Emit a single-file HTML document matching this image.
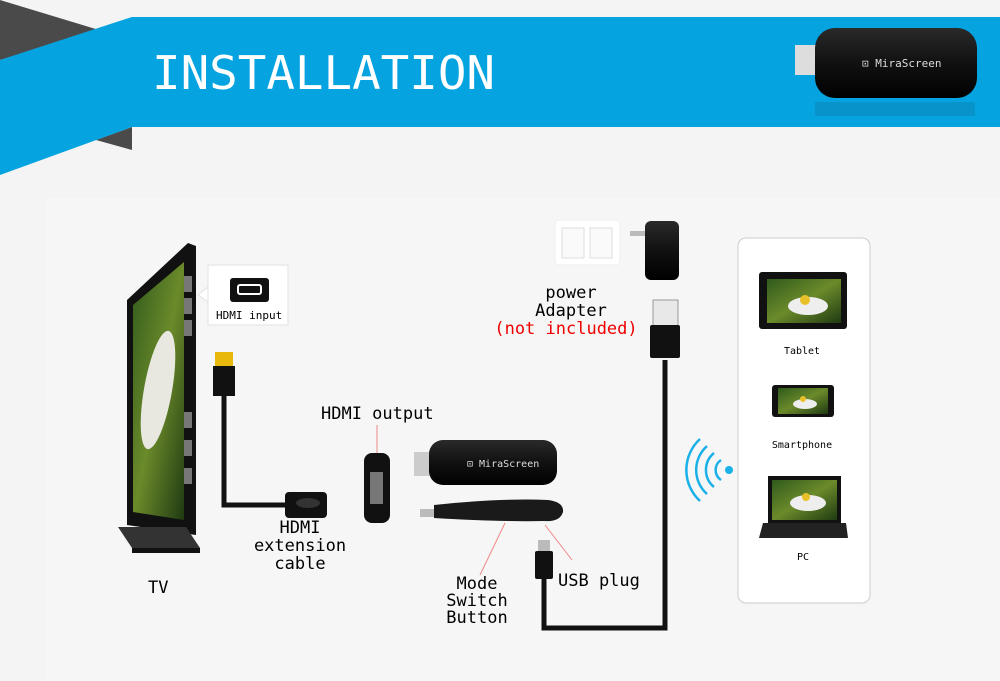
<!DOCTYPE html>
<html><head><style>
html,body{margin:0;padding:0;width:1000px;height:681px;overflow:hidden;background:#f4f4f4}
svg{display:block}
text{font-family:"DejaVu Sans Mono","Liberation Mono",monospace}
</style></head><body>
<svg width="1000" height="681" viewBox="0 0 1000 681">
<defs>
<linearGradient id="scr" x1="0" y1="0" x2="1" y2="1">
<stop offset="0" stop-color="#2f5a1c"/><stop offset="0.5" stop-color="#6b8a2a"/><stop offset="1" stop-color="#1f3a12"/></linearGradient>
<linearGradient id="blk" x1="0" y1="0" x2="0" y2="1">
<stop offset="0" stop-color="#2a2a2a"/><stop offset="0.5" stop-color="#111"/><stop offset="1" stop-color="#000"/></linearGradient>
</defs>
<rect width="1000" height="681" fill="#f4f4f4"/>
<rect x="45" y="198" width="955" height="483" fill="#f6f6f6"/>
<!-- header -->
<polygon points="0,0 99,30 0,60" fill="#4a4a4a"/>
<polygon points="96,140 132,127 132,150" fill="#4a4a4a"/>
<polygon points="132,17 1000,17 1000,127 132,127 0,175 0,60" fill="#05a3e0"/>
<text x="152" y="89" font-size="46" fill="#fff" textLength="343" lengthAdjust="spacingAndGlyphs">INSTALLATION</text>
<!-- top dongle -->
<rect x="795" y="45" width="25" height="30" fill="#ddd"/>
<rect x="815" y="28" width="162" height="70" rx="20" fill="url(#blk)"/>
<rect x="815" y="102" width="160" height="14" fill="#0b88bd" opacity="0.6"/>
<text x="862" y="67" font-size="11" fill="#ddd" font-family="Liberation Sans">⊡ MiraScreen</text>
<!-- TV -->
<polygon points="127,300 188,243 196,246 196,535 127,525" fill="#111"/>
<polygon points="133,305 184,262 184,520 133,512" fill="url(#scr)"/>
<ellipse cx="158" cy="390" rx="14" ry="60" fill="#e8e8e0" transform="rotate(10 158 390)"/>
<rect x="184" y="276" width="8" height="16" fill="#777"/>
<rect x="184" y="298" width="8" height="16" fill="#777"/>
<rect x="184" y="320" width="8" height="16" fill="#777"/>
<rect x="184" y="412" width="8" height="16" fill="#777"/>
<rect x="184" y="440" width="8" height="16" fill="#777"/>
<rect x="184" y="468" width="8" height="16" fill="#777"/>
<polygon points="118,527 186,527 200,548 132,548" fill="#333"/>
<polygon points="132,548 200,548 200,553 132,553" fill="#111"/>
<!-- HDMI input callout -->
<rect x="208" y="265" width="80" height="60" fill="#fff" stroke="#e2e2e2"/>
<polygon points="208,287 198,295 208,302" fill="#fff" stroke="#e2e2e2"/>
<rect x="230" y="278" width="39" height="24" rx="3" fill="#111"/>
<rect x="238" y="285" width="23" height="9" rx="2" fill="none" stroke="#fff" stroke-width="2"/>
<text x="216" y="319" font-size="11" fill="#000">HDMI input</text>
<!-- HDMI cable -->
<rect x="215" y="352" width="18" height="14" fill="#e8b90c"/>
<rect x="213" y="366" width="22" height="30" fill="#111"/>
<path d="M224,396 V505 H290" stroke="#111" stroke-width="5" fill="none"/>
<rect x="285" y="492" width="42" height="26" rx="4" fill="#111"/>
<ellipse cx="308" cy="503" rx="12" ry="5" fill="#333"/>
<text x="300" y="533" font-size="17" text-anchor="middle">HDMI</text>
<text x="300" y="551" font-size="17" text-anchor="middle">extension</text>
<text x="300" y="569" font-size="17" text-anchor="middle">cable</text>
<text x="148" y="593" font-size="17">TV</text>
<!-- HDMI output adapter -->
<text x="321" y="419" font-size="17">HDMI output</text>
<line x1="377" y1="425" x2="377" y2="455" stroke="#e88" stroke-width="1"/>
<rect x="364" y="453" width="26" height="70" rx="8" fill="#111"/>
<rect x="370" y="472" width="13" height="32" fill="#777"/>
<!-- dongle -->
<rect x="414" y="452" width="18" height="24" fill="#ccc"/>
<rect x="429" y="440" width="128" height="45" rx="14" fill="url(#blk)"/>
<text x="467" y="467" font-size="10" fill="#ddd" font-family="Liberation Sans">⊡ MiraScreen</text>
<!-- wand -->
<rect x="420" y="509" width="16" height="8" fill="#bbb"/>
<path d="M434,505 Q500,498 548,500 Q564,502 563,512 Q560,522 545,521 Q500,522 434,518 Z" fill="#1a1a1a"/>
<line x1="505" y1="523" x2="480" y2="575" stroke="#e88"/>
<line x1="545" y1="525" x2="572" y2="560" stroke="#e88"/>
<text x="477" y="589" font-size="17" text-anchor="middle">Mode</text>
<text x="477" y="606" font-size="17" text-anchor="middle">Switch</text>
<text x="477" y="623" font-size="17" text-anchor="middle">Button</text>
<text x="558" y="586" font-size="17">USB plug</text>
<!-- micro usb + cable -->
<rect x="538" y="540" width="12" height="12" fill="#bbb"/>
<rect x="535" y="551" width="18" height="28" rx="2" fill="#111"/>
<path d="M544,578 V628 H665 V360" stroke="#111" stroke-width="5" fill="none"/>
<rect x="653" y="300" width="25" height="27" fill="#e8e8e8" stroke="#999"/>
<rect x="650" y="325" width="30" height="33" rx="2" fill="#111"/>
<!-- outlet & adapter -->
<rect x="555" y="220" width="65" height="45" rx="4" fill="#fff" stroke="#eee"/>
<rect x="562" y="228" width="22" height="30" fill="#fafafa" stroke="#ddd"/>
<rect x="590" y="228" width="22" height="30" fill="#fafafa" stroke="#ddd"/>
<rect x="630" y="231" width="15" height="5" fill="#bbb"/>
<rect x="645" y="221" width="34" height="59" rx="6" fill="url(#blk)"/>
<text x="571" y="298" font-size="17" text-anchor="middle">power</text>
<text x="571" y="316" font-size="17" text-anchor="middle">Adapter</text>
<text x="566" y="334" font-size="17" text-anchor="middle" fill="#e00">(not included)</text>
<!-- wifi -->
<circle cx="729" cy="470" r="4" fill="#1ab0e8"/>
<g fill="none" stroke="#1ab0e8" stroke-width="2.5">
<path d="M721,460 A12,12 0 0 0 721,480"/>
<path d="M714,453 A22,22 0 0 0 714,487"/>
<path d="M707,446 A32,32 0 0 0 707,494"/>
<path d="M700,439 A42,42 0 0 0 700,501"/>
</g>
<!-- device panel -->
<rect x="738" y="238" width="132" height="365" rx="8" fill="#fff" stroke="#ccc"/>
<rect x="759" y="272" width="88" height="57" rx="3" fill="#111"/>
<rect x="767" y="279" width="74" height="44" fill="url(#scr)"/>
<ellipse cx="808" cy="306" rx="20" ry="9" fill="#eee"/>
<circle cx="805" cy="300" r="5" fill="#e8c02a"/>
<text x="802" y="354" font-size="10" text-anchor="middle">Tablet</text>
<rect x="772" y="385" width="62" height="32" rx="3" fill="#111"/>
<rect x="778" y="388" width="50" height="26" fill="url(#scr)"/>
<ellipse cx="805" cy="404" rx="12" ry="5" fill="#eee"/>
<circle cx="803" cy="399" r="3" fill="#e8c02a"/>
<text x="802" y="448" font-size="10" text-anchor="middle">Smartphone</text>
<rect x="768" y="476" width="73" height="47" fill="#111"/>
<rect x="772" y="480" width="65" height="40" fill="url(#scr)"/>
<ellipse cx="808" cy="503" rx="18" ry="8" fill="#eee"/>
<circle cx="806" cy="497" r="4" fill="#e8c02a"/>
<polygon points="763,523 846,523 848,538 759,538" fill="#222"/>
<text x="803" y="560" font-size="10" text-anchor="middle">PC</text>
</svg>
</body></html>
